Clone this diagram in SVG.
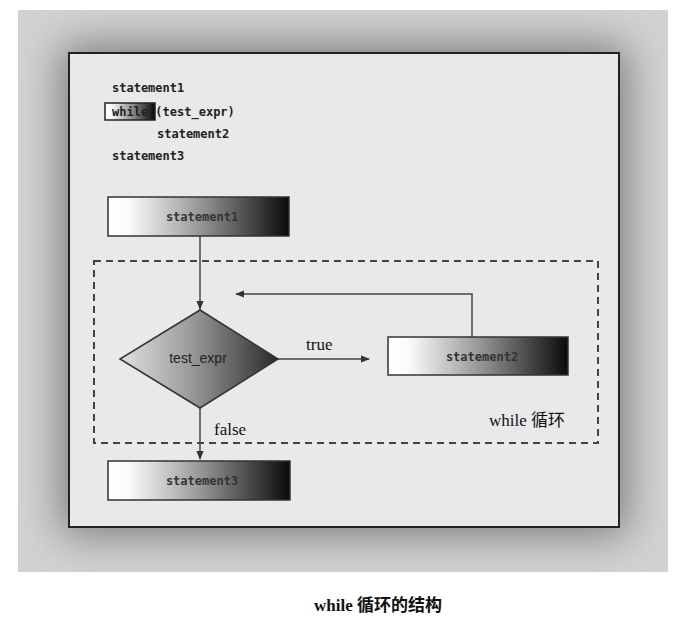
<svg xmlns="http://www.w3.org/2000/svg" width="687" height="622" viewBox="0 0 687 622">
<style>
.code{font-family:"DejaVu Sans Mono","Liberation Mono",monospace;font-size:12px;font-weight:bold;fill:#222}
.lbl{font-family:"DejaVu Sans Mono","Liberation Mono",monospace;font-size:12px;font-weight:bold;fill:#333;text-anchor:middle}
.ser{font-family:"Liberation Serif","Noto Sans CJK SC",serif;font-size:17px;fill:#111}
.box{stroke:#333;stroke-width:1.5}
.conn{stroke:#444;stroke-width:1.5;fill:none}
</style>
<defs>
<linearGradient id="g" x1="0" y1="0" x2="1" y2="0">
<stop offset="0" stop-color="#fff"/>
<stop offset="0.12" stop-color="#fafafa"/>
<stop offset="0.5" stop-color="#999"/>
<stop offset="1" stop-color="#0a0a0a"/>
</linearGradient>
<linearGradient id="gd" x1="0" y1="0" x2="1" y2="0">
<stop offset="0" stop-color="#e0e0e0"/>
<stop offset="0.45" stop-color="#9a9a9a"/>
<stop offset="1" stop-color="#2a2a2a"/>
</linearGradient>
<filter id="blur" x="-20%" y="-20%" width="140%" height="140%"><feGaussianBlur stdDeviation="22"/></filter>
<clipPath id="oc"><rect x="18" y="10" width="650" height="562"/></clipPath>
<marker id="arr" viewBox="0 0 10 10" refX="9" refY="5" markerWidth="6" markerHeight="6" orient="auto"><path d="M0,1 L10,5 L0,9 z" fill="#333"/></marker>
</defs>
<rect width="687" height="622" fill="#fff"/>
<g id="shadow" clip-path="url(#oc)">
<rect x="18" y="10" width="650" height="562" fill="#d2d2d2"/>
<rect x="62" y="46" width="564" height="488" fill="#777" filter="url(#blur)"/>
</g>
<g id="panel"><rect x="69" y="53" width="550" height="474" fill="#e9e9e9" stroke="#222" stroke-width="2"/></g>
<g id="code">
<text class="code" x="112" y="92">statement1</text>
<rect x="105" y="103" width="50" height="17" fill="url(#g)" stroke="#222" stroke-width="1.5"/>
<text class="code" x="112" y="116">while (test_expr)</text>
<text class="code" x="157" y="138">statement2</text>
<text class="code" x="112" y="160">statement3</text>
</g>
<g id="loop"><rect x="94" y="261" width="504" height="182" fill="none" stroke="#444" stroke-width="2" stroke-dasharray="7,5"/>
<text class="ser" x="489" y="426">while 循环</text></g>
<g id="connectors">
<line class="conn" x1="200" y1="236" x2="200" y2="309" marker-end="url(#arr)"/>
<line class="conn" x1="278" y1="359" x2="369" y2="359" marker-end="url(#arr)"/>
<polyline class="conn" points="472,337 472,294 236,294" marker-end="url(#arr)"/>
<line class="conn" x1="200" y1="408" x2="200" y2="459" marker-end="url(#arr)"/>
<text class="ser" x="306" y="350">true</text>
<text class="ser" x="214" y="435">false</text>
</g>
<g id="statement1"><rect class="box" x="108" y="197" width="181" height="39" fill="url(#g)"/><text class="lbl" x="202" y="221">statement1</text></g>
<g id="test_expr"><polygon points="200,310 278,359 200,408 120,359" fill="url(#gd)" stroke="#333" stroke-width="1.5"/><text x="198" y="363" font-family="Liberation Sans,Arial,sans-serif" font-size="14" fill="#222" text-anchor="middle">test_expr</text></g>
<g id="statement2"><rect class="box" x="388" y="337" width="180" height="38" fill="url(#g)"/><text class="lbl" x="482" y="361">statement2</text></g>
<g id="statement3"><rect class="box" x="108" y="461" width="182" height="39" fill="url(#g)"/><text class="lbl" x="202" y="485">statement3</text></g>
<text x="378" y="611" font-family="Liberation Serif,Noto Sans CJK SC,serif" font-size="17" font-weight="bold" fill="#111" text-anchor="middle">while 循环的结构</text>
</svg>
